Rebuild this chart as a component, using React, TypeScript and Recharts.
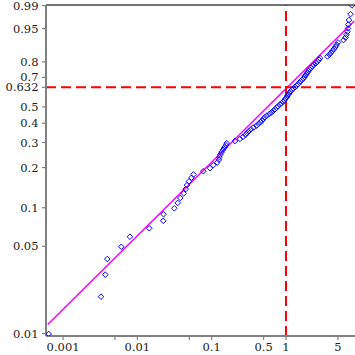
import React from 'react';
import { ScatterChart, Scatter, XAxis, YAxis, ReferenceLine } from 'recharts';

const failureTimes = [
  0.00064, 0.00324, 0.0037, 0.00394, 0.00607, 0.00794, 0.01445, 0.0223, 0.0225, 0.0314,
  0.0349, 0.0378, 0.042, 0.0447, 0.0465, 0.0495, 0.0535, 0.0569, 0.0771, 0.0949,
  0.1051, 0.119, 0.1254, 0.1273, 0.1305, 0.1355, 0.1419, 0.1486, 0.1557, 0.1591,
  0.206, 0.2404, 0.2638, 0.2851, 0.2985, 0.3177, 0.338, 0.3655, 0.4009, 0.4265,
  0.4537, 0.4753, 0.4977, 0.5213, 0.5546, 0.5998, 0.6381, 0.6788, 0.711, 0.7498,
  0.7801, 0.83, 0.8698, 0.9198, 0.9546, 0.9847, 1.0219, 1.0476, 1.0805, 1.1146,
  1.1497, 1.2043, 1.254, 1.3218, 1.3932, 1.4501, 1.5193, 1.5672, 1.642, 1.72,
  1.7742, 1.83, 1.8878, 1.9473, 2.0088, 2.0722, 2.1706, 2.2738, 2.3818, 2.5337,
  2.6546, 2.7805, 2.8682, 3.6182, 3.8505, 4.0337, 4.2251, 4.426, 4.6365, 4.8126,
  5.0107, 5.9402, 6.3228, 6.5222, 6.7271, 6.8321, 6.8957, 7.046, 7.382, 7.7322,
];

const yTickProbs = [0.01, 0.05, 0.1, 0.2, 0.3, 0.4, 0.5, 0.632, 0.7, 0.8, 0.95, 0.99];
const yTickLabels = ['0.01', '0.05', '0.1', '0.2', '0.3', '0.4', '0.5', '0.632', '0.7', '0.8', '0.95', '0.99'];
const xTickValues = [0.001, 0.005, 0.01, 0.05, 0.1, 0.5, 1, 5];
const xTickLabels = ['0.001', '', '0.01', '', '0.1', '0.5', '1', '5'];

// fitted Weibull line endpoints (time, probability)
const fitTimes = [0.000621, 8.3];
const fitProbs = [0.01182, 0.9685];

// characteristic-life crosshair
const refTime = 1;
const refProb = 0.632;

// axis ranges
const timeRange = [0.000589, 8.49];
const probRange = [0.009544, 0.99049];

const weib = (p: number) => Math.log(-Math.log(1 - p));
const lg = (t: number) => Math.log10(t);

const n = failureTimes.length;
const points = failureTimes.map((t, i) => ({ x: lg(t), y: weib((i + 1) / (n + 1)) }));

const xTicks = xTickValues.map(lg);
const yTicks = yTickProbs.map(weib);

const closestLabel = (v: number, ticks: number[], labels: string[]) => {
  let best = 0;
  for (let i = 1; i < ticks.length; i++) {
    if (Math.abs(ticks[i] - v) < Math.abs(ticks[best] - v)) best = i;
  }
  return labels[best];
};

const Diamond = (props: any) => {
  const { cx, cy } = props;
  const r = 2.8;
  return (
    <path
      d={`M${cx},${cy - r}L${cx + r},${cy}L${cx},${cy + r}L${cx - r},${cy}Z`}
      fill="none"
      stroke="#0000ff"
      strokeWidth={1}
    />
  );
};

const font = { fontFamily: 'DejaVu Serif', fontSize: 11.5, fill: '#222' };

export default function App() {
  return (
    <div style={{ position: 'absolute', left: 0, top: 0, background: '#fff' }}>
      <ScatterChart width={355} height={355} margin={{ top: 5, right: 0, bottom: 0, left: 0 }}>
        <XAxis
          type="number"
          dataKey="x"
          domain={[lg(timeRange[0]), lg(timeRange[1])]}
          ticks={xTicks}
          interval={0}
          allowDataOverflow
          height={19}
          stroke="#808080"
          axisLine={{ stroke: '#808080', strokeWidth: 2 }}
          tickLine={{ stroke: '#808080', strokeWidth: 1.2 }}
          tickSize={4}
          tickMargin={3}
          tick={font}
          tickFormatter={(v: number) => closestLabel(v, xTicks, xTickLabels)}
        />
        <YAxis
          type="number"
          dataKey="y"
          domain={[weib(probRange[0]), weib(probRange[1])]}
          ticks={yTicks}
          interval={0}
          allowDataOverflow
          width={46}
          stroke="#808080"
          axisLine={{ stroke: '#808080', strokeWidth: 2 }}
          tickLine={{ stroke: '#808080', strokeWidth: 1.2 }}
          tickSize={4}
          tickMargin={3.5}
          tick={font}
          tickFormatter={(v: number) => closestLabel(v, yTicks, yTickLabels)}
        />
        <ReferenceLine y={weib(probRange[1])} stroke="#444" strokeWidth={1.5} />
        <ReferenceLine
          segment={[
            { x: lg(fitTimes[0]), y: weib(fitProbs[0]) },
            { x: lg(fitTimes[1]), y: weib(fitProbs[1]) },
          ]}
          stroke="#ff00ff"
          strokeWidth={1.5}
        />
        <Scatter data={points} shape={Diamond} isAnimationActive={false} />
        <ReferenceLine x={lg(refTime)} stroke="#ff0000" strokeWidth={2} strokeDasharray="10 5" />
        <ReferenceLine y={weib(refProb)} stroke="#ff0000" strokeWidth={2} strokeDasharray="10 5" />
      </ScatterChart>
    </div>
  );
}
